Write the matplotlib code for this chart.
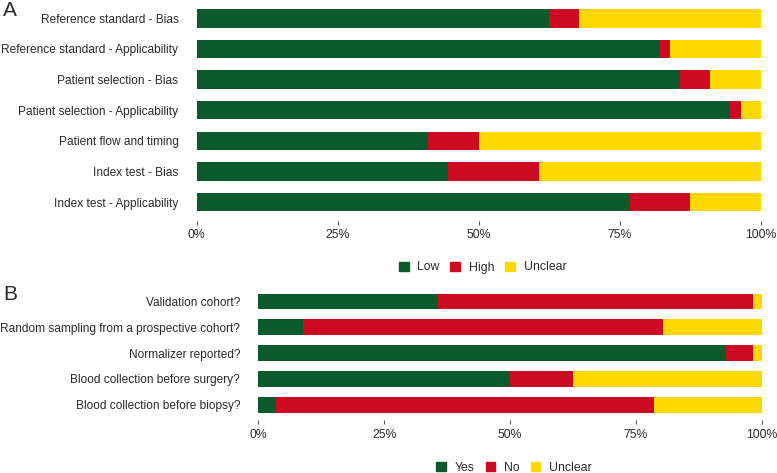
import numpy as np
import matplotlib
matplotlib.use('Agg')
import matplotlib.pyplot as plt
from matplotlib.patches import Patch
from matplotlib.ticker import PercentFormatter

plt.rcParams['font.family'] = ['Liberation Sans', 'DejaVu Sans']

# Panel A: QUADAS-2 domains, number of studies (out of 56)
domains = ['Reference standard - Bias', 'Reference standard - Applicability',
           'Patient selection - Bias', 'Patient selection - Applicability',
           'Patient flow and timing', 'Index test - Bias',
           'Index test - Applicability']
low = [35, 46, 48, 53, 23, 25, 43]
high = [3, 1, 3, 1, 5, 9, 6]
unclear_a = [18, 9, 5, 2, 28, 22, 7]

# Panel B: additional questions
questions = ['Validation cohort?', 'Random sampling from a prospective cohort?',
             'Normalizer reported?', 'Blood collection before surgery?',
             'Blood collection before biopsy?']
yes = [20, 5, 52, 28, 2]
no = [35, 40, 3, 7, 42]
unclear_b = [1, 11, 1, 21, 12]

x_ticks = [0, 25, 50, 75, 100]

GREEN = '#0b5a2b'
RED = '#cc0a21'
YELLOW = '#ffd800'
TEXT = '#2b2b2b'

W, H = 777, 473
fig = plt.figure(figsize=(W / 100, H / 100), dpi=100)


def px_axes(left, top, right, bottom):
    return fig.add_axes([left / W, 1 - bottom / H, (right - left) / W, (bottom - top) / H])


def stacked(ax, labels, series, colors):
    n = len(labels)
    y = np.arange(n)
    totals = np.sum(series, axis=0)
    left = np.zeros(n)
    for vals, col in zip(series, colors):
        pct = np.array(vals) / totals * 100
        ax.barh(y, pct, left=left, height=0.6, color=col, edgecolor='none')
        left += pct
    ax.set_ylim(n - 0.4, -0.6)
    ax.set_xlim(0, 100)
    ax.set_yticks(y)
    ax.set_yticklabels(labels, fontsize=8.6, color=TEXT)
    ax.set_xticks(x_ticks)
    ax.xaxis.set_major_formatter(PercentFormatter(decimals=0))
    ax.tick_params(axis='y', length=0, pad=13)
    ax.tick_params(axis='x', length=3, width=0.8, color='#555555', pad=3,
                   labelsize=8.8, labelcolor=TEXT)
    for s in ax.spines.values():
        s.set_visible(False)


ax_a = px_axes(196.5, 0, 760.7, 220.5)
stacked(ax_a, domains, [low, high, unclear_a], [GREEN, RED, YELLOW])

ax_b = px_axes(258.3, 285.8, 761.7, 420.3)
stacked(ax_b, questions, [yes, no, unclear_b], [GREEN, RED, YELLOW])

legend_kw = dict(loc='center', ncol=3, frameon=False, fontsize=8.8,
                 handlelength=0.8, handleheight=0.8, handletextpad=0.7,
                 columnspacing=0.9, labelcolor=TEXT)
fig.legend(handles=[Patch(color=GREEN, label='Low'), Patch(color=RED, label='High'),
                    Patch(color=YELLOW, label='Unclear')],
           bbox_to_anchor=(482.5 / W, 1 - 267.5 / H), **legend_kw)
fig.legend(handles=[Patch(color=GREEN, label='Yes'), Patch(color=RED, label='No'),
                    Patch(color=YELLOW, label='Unclear')],
           bbox_to_anchor=(514 / W, 1 - 468 / H), **legend_kw)

fig.text(3 / W, 1 - 11 / H, 'A', fontsize=15, color=TEXT, va='center', ha='left')
fig.text(3 / W, 1 - 295 / H, 'B', fontsize=15, color=TEXT, va='center', ha='left')

fig.savefig('out.png', dpi=100)
